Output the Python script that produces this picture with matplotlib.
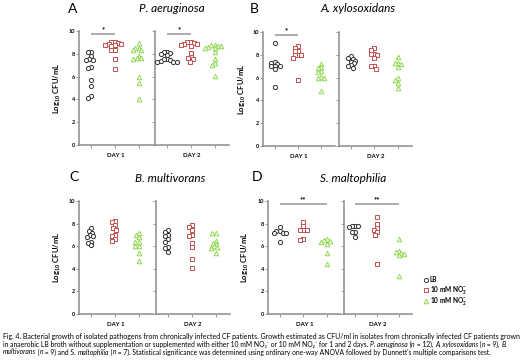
import numpy as np
import matplotlib
matplotlib.use('Agg')
import matplotlib.pyplot as plt

plt.rcParams['font.family'] = ['Lato', 'DejaVu Sans']
plt.rcParams['mathtext.fontset'] = 'custom'
plt.rcParams['mathtext.rm'] = 'Lato'
plt.rcParams['mathtext.it'] = 'Lato:italic'
plt.rcParams['mathtext.bf'] = 'Lato:bold'

W, H = 523, 363

species = ['P. aeruginosa', 'A. xylosoxidans', 'B. multivorans', 'S. maltophilia']
letters = ['A', 'B', 'C', 'D']
group_names = ['LB', r'10 mM NO$_\mathbf{3}^\mathbf{-}$', r'10 mM NO$_\mathbf{2}^\mathbf{-}$']
days = ['DAY 1', 'DAY 2']

# log10 CFU/mL
pa_d1_lb = [8.15, 8.15, 7.77, 7.5, 7.45, 7.45, 6.83, 6.75, 5.72, 5.16, 4.3, 4.12]
pa_d1_no3 = [9.05, 9.0, 8.95, 8.9, 8.85, 8.8, 8.75, 8.7, 8.3, 8.3, 7.55, 6.7]
pa_d1_no2 = [8.96, 8.5, 8.5, 8.3, 8.3, 7.85, 7.6, 7.6, 7.55, 5.95, 5.43, 4.0]
pa_d2_lb = [8.2, 8.2, 8.1, 8.0, 7.9, 7.5, 7.45, 7.35, 7.3, 7.3, 7.3, 7.5]
pa_d2_no3 = [9.0, 9.0, 8.95, 8.9, 8.85, 8.8, 8.7, 8.1, 7.75, 7.65, 7.5, 7.3]
pa_d2_no2 = [8.8, 8.75, 8.7, 8.65, 8.6, 8.55, 8.5, 8.15, 7.55, 7.2, 7.0, 6.05]

ax_d1_lb = [9.05, 7.35, 7.3, 7.2, 7.05, 7.0, 7.0, 6.75, 5.2]
ax_d1_no3 = [8.8, 8.6, 8.3, 8.3, 7.95, 7.95, 7.95, 7.7, 5.8]
ax_d1_no2 = [7.2, 6.9, 6.8, 6.6, 6.5, 6.05, 6.0, 6.0, 4.8]
ax_d2_lb = [7.9, 7.7, 7.65, 7.5, 7.4, 7.25, 7.1, 7.0, 6.85]
ax_d2_no3 = [8.6, 8.45, 8.1, 8.05, 7.95, 7.75, 7.0, 7.0, 6.75]
ax_d2_no2 = [7.8, 7.3, 7.3, 7.15, 6.95, 6.0, 5.8, 5.55, 5.1]

bm_d1_lb = [7.6, 7.35, 7.2, 7.0, 6.9, 6.8, 6.4, 6.3, 6.1]
bm_d1_no3 = [8.2, 8.1, 7.85, 7.6, 7.45, 7.0, 6.9, 6.6, 6.5]
bm_d1_no2 = [7.2, 7.0, 6.8, 6.4, 6.4, 6.0, 6.0, 5.4, 4.7]
bm_d2_lb = [7.4, 7.3, 7.0, 6.9, 6.6, 6.4, 5.9, 5.8, 5.5]
bm_d2_no3 = [7.9, 7.7, 7.4, 7.0, 6.9, 6.3, 5.9, 4.9, 4.1]
bm_d2_no2 = [7.2, 7.15, 6.5, 6.3, 6.2, 6.0, 5.9, 5.8, 5.4]

sm_d1_lb = [7.7, 7.35, 7.35, 7.2, 7.15, 7.15, 6.4]
sm_d1_no3 = [8.1, 7.8, 7.45, 7.4, 7.4, 6.6, 6.55]
sm_d1_no2 = [6.6, 6.55, 6.45, 6.4, 6.2, 5.4, 4.4]
sm_d2_lb = [7.8, 7.75, 7.75, 7.7, 7.3, 7.25, 6.8]
sm_d2_no3 = [8.6, 8.0, 7.6, 7.45, 7.25, 7.0, 4.45]
sm_d2_no2 = [6.6, 5.6, 5.45, 5.4, 5.35, 5.2, 3.35]

# (day, from group, to group, stars)
pa_sig = [(0, 0, 1, '*'), (1, 0, 1, '*')]
ax_sig = [(0, 0, 1, '*')]
bm_sig = []
sm_sig = [(0, 0, 2, '**'), (1, 0, 2, '**')]

data = [
    [[pa_d1_lb, pa_d1_no3, pa_d1_no2], [pa_d2_lb, pa_d2_no3, pa_d2_no2]],
    [[ax_d1_lb, ax_d1_no3, ax_d1_no2], [ax_d2_lb, ax_d2_no3, ax_d2_no2]],
    [[bm_d1_lb, bm_d1_no3, bm_d1_no2], [bm_d2_lb, bm_d2_no3, bm_d2_no2]],
    [[sm_d1_lb, sm_d1_no3, sm_d1_no2], [sm_d2_lb, sm_d2_no3, sm_d2_no2]],
]
sigs = [pa_sig, ax_sig, bm_sig, sm_sig]

# caption, as (text, style) pieces per line
caption = [
    [('Fig. 4. Bacterial growth of isolated pathogens from chronically infected CF patients. '
      'Growth estimated as CFU/ml in isolates from chronically infected CF patients grown', 'normal')],
    [('in anaerobic LB broth without supplementation or supplemented with either '
      '10 mM NO\u2083\u207b or 10 mM NO\u2082\u207b for 1 and 2 days. ', 'normal'),
     ('P. aeruginosa', 'italic'), (' (', 'normal'), ('n', 'italic'), (' = 12), ', 'normal'),
     ('A. xylosoxidans', 'italic'), (' (', 'normal'), ('n', 'italic'), (' = 9), ', 'normal'),
     ('B.', 'italic')],
    [('multivorans', 'italic'), (' (', 'normal'), ('n', 'italic'), (' = 9) and S. ', 'normal'),
     ('maltophilia', 'italic'), (' (', 'normal'), ('n', 'italic'),
     (" = 7). Statistical significance was determined using ordinary one-way ANOVA "
      "followed by Dunnett's multiple comparisons test.", 'normal')],
]

markers = ['o', 's', '^']
edge_colors = ['#333333', '#c0504d', '#8fd94f']
marker_sizes = [3.0, 3.2, 3.3]

# pixel boxes: (day1 x0, day1 x1, day2 x0, day2 x1, top, bottom)
boxes = [
    (79, 153, 155, 229, 31, 145),
    (263, 335, 339, 412, 32, 146),
    (79, 153, 156, 230, 201, 314),
    (268, 341, 344, 412, 201, 314),
]
ylabel_x = [57, 242, 57, 245]
letter_pos = [(68, 9), (250, 9), (69, 177), (252, 177)]
title_pos = [(172, 9), (358, 9), (170, 178), (353, 178)]


def swarm(vals, d=3.4, xs=24.0, ys=11.4):
    vals = np.asarray(vals, dtype=float)
    order = np.argsort(-vals, kind='stable')
    placed = []
    offs = np.zeros(len(vals))
    for i in order:
        y = vals[i] * ys
        cands = [0.0]
        for px, py in placed:
            dy = abs(py - y)
            if dy < d:
                dx = np.sqrt(d * d - dy * dy)
                cands += [px - dx, px + dx]
        cands.sort(key=abs)
        for c in cands:
            if all((c - px) ** 2 + (y - py) ** 2 >= d * d - 1e-6 for px, py in placed):
                break
        placed.append((c, y))
        offs[i] = c / xs
    return offs


def add_axes_px(fig, x0, x1, y0, y1):
    return fig.add_axes([x0 / W, 1 - y1 / H, (x1 - x0) / W, (y1 - y0) / H])


fig = plt.figure(figsize=(W / 100, H / 100), dpi=100)
fig.patch.set_facecolor('white')
renderer = fig.canvas.get_renderer()

for p in range(4):
    b = boxes[p]
    for d in range(2):
        if d == 0:
            ax = add_axes_px(fig, b[0], b[1], b[4], b[5])
        else:
            ax = add_axes_px(fig, b[2], b[3], b[4], b[5])
        for g in range(3):
            vals = data[p][d][g]
            xs = g + 1 + swarm(vals)
            ax.plot(xs, vals, linestyle='none', marker=markers[g],
                    markersize=marker_sizes[g], markerfacecolor='white',
                    markeredgecolor=edge_colors[g], markeredgewidth=0.7,
                    clip_on=False, zorder=3)
        for (sd, g1, g2, stars) in sigs[p]:
            if sd != d:
                continue
            ax.plot([g1 + 1, g2 + 1], [9.75, 9.75], color='#a6a6a6', lw=1.3,
                    clip_on=False, solid_capstyle='butt')
            ax.text((g1 + g2) / 2 + 1, 9.8, stars, ha='center', va='bottom',
                    fontsize=5.5, fontweight='bold', clip_on=False)
        ax.set_xlim(0.5, 3.6)
        ax.set_ylim(0, 10)
        ax.set_xticks([1, 2, 3])
        ax.set_xticklabels([])
        ax.set_yticks([0, 2, 4, 6, 8, 10])
        for s in ['top', 'right']:
            ax.spines[s].set_visible(False)
        for s in ['left', 'bottom']:
            ax.spines[s].set_color('#8c8c8c')
            ax.spines[s].set_linewidth(1.1)
        ax.tick_params(length=2, width=0.6, color='#8c8c8c', pad=1,
                       labelsize=4, direction='out')
        if d == 0:
            for lab in ax.get_yticklabels():
                lab.set_fontweight('bold')
        else:
            ax.set_yticklabels([])
        ax.set_xlabel(days[d], fontsize=4.3, fontweight='bold', labelpad=3)
        ax.patch.set_alpha(0)

    yc = 1 - (b[4] + b[5]) / 2 / H
    fig.text(ylabel_x[p] / W, yc, r'Log$_\mathbf{10}$ CFU/mL', rotation=90,
             ha='center', va='center', fontsize=5.5, fontweight='bold')
    fig.text(letter_pos[p][0] / W, 1 - letter_pos[p][1] / H, letters[p],
             ha='left', va='center', fontsize=10)
    fig.text(title_pos[p][0] / W, 1 - title_pos[p][1] / H, species[p],
             ha='center', va='center', fontsize=8.5, style='italic')

# legend
leg_y = [280, 290, 301]
for g in range(3):
    fig.lines.append(plt.Line2D([426 / W], [1 - leg_y[g] / H], transform=fig.transFigure,
                                linestyle='none', marker=markers[g], markersize=marker_sizes[g],
                                markerfacecolor='white', markeredgecolor=edge_colors[g],
                                markeredgewidth=0.7))
    fig.text(430 / W, 1 - leg_y[g] / H, group_names[g], ha='left', va='center',
             fontsize=4.7, fontweight='bold')


def seg_width(txt, style, size):
    # measure between two bars so edge spaces count
    a = fig.text(0, 0, '|' + txt + '|', fontsize=size, style=style)
    b = fig.text(0, 0, '||', fontsize=size, style=style)
    w = a.get_window_extent(renderer).width - b.get_window_extent(renderer).width
    a.remove()
    b.remove()
    return w


cap_base = [339.5, 347, 354.5]
cap_right = [518, 511, 495]
for segs, yb, xr in zip(caption, cap_base, cap_right):
    size = 4.0
    for _ in range(3):
        total = sum(seg_width(t, s, size) for t, s in segs)
        size = size * (xr - 3) / total
    x = 3.0
    for t, s in segs:
        fig.text(x / W, 1 - yb / H, t, fontsize=size, style=s, ha='left', va='baseline')
        x += seg_width(t, s, size)

fig.savefig('out.png', dpi=100)
